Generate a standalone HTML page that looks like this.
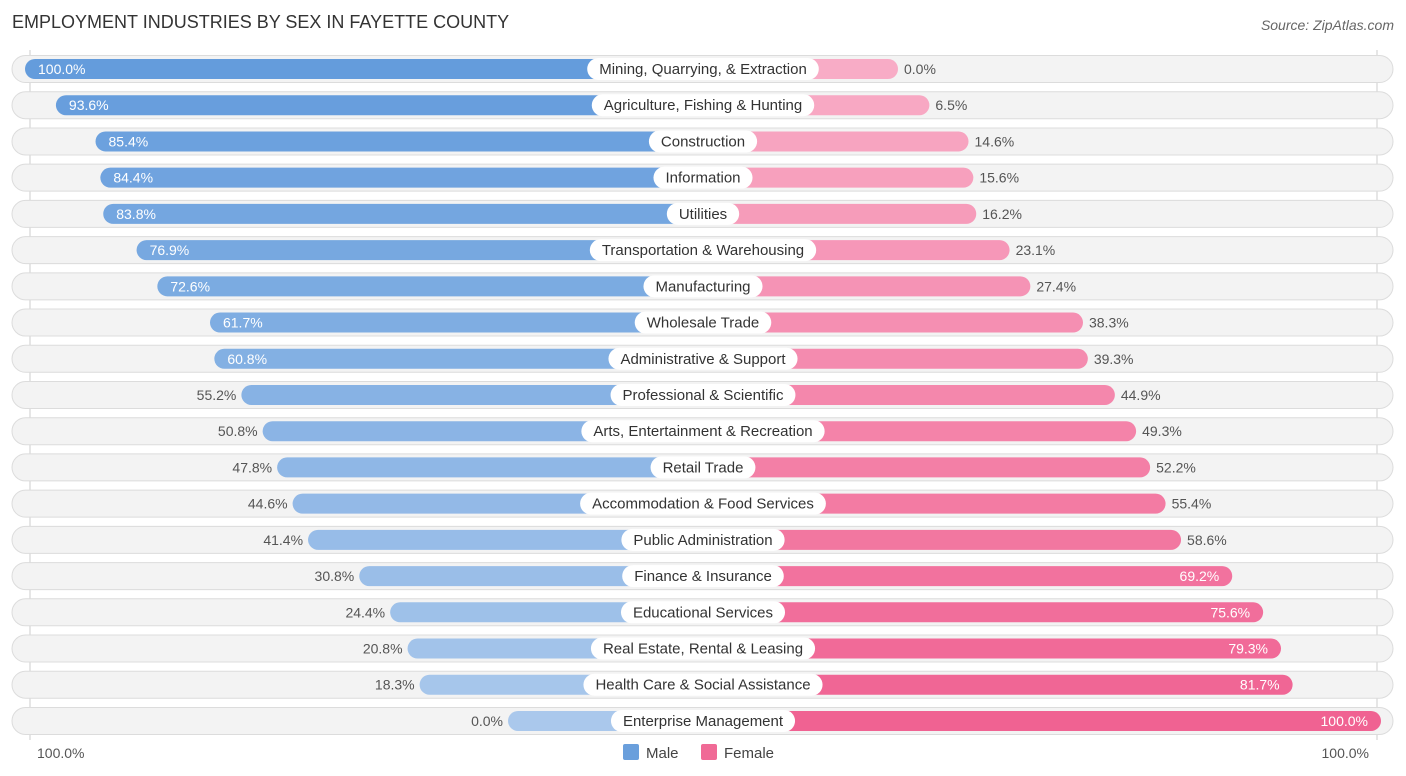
<!DOCTYPE html>
<html><head><meta charset="utf-8"><style>
body{margin:0;background:#fff;font-family:"Liberation Sans",sans-serif;}
svg{display:block}
</style></head><body>
<svg id="c" width="1406" height="776">
<text x="12" y="28" font-size="18" fill="#333">EMPLOYMENT INDUSTRIES BY SEX IN FAYETTE COUNTY</text>
<text x="1394" y="30" font-size="14" fill="#666" font-style="italic" text-anchor="end">Source: ZipAtlas.com</text>
<line x1="30" y1="50" x2="30" y2="740" stroke="#ccc"/>
<line x1="1377" y1="50" x2="1377" y2="740" stroke="#ccc"/>
<g id="rows"></g>
<text x="37" y="758" font-size="14" fill="#555">100.0%</text>
<text x="1369" y="758" font-size="14" fill="#555" text-anchor="end">100.0%</text>
<rect x="623" y="744" width="16" height="16" rx="2" fill="#6a9fdc"/>
<text x="646" y="758" font-size="15" fill="#444">Male</text>
<rect x="701" y="744" width="16" height="16" rx="2" fill="#f06a96"/>
<text x="724" y="758" font-size="15" fill="#444">Female</text>
</svg>
<script>
const categories=["Mining, Quarrying, & Extraction","Agriculture, Fishing & Hunting","Construction","Information","Utilities","Transportation & Warehousing","Manufacturing","Wholesale Trade","Administrative & Support","Professional & Scientific","Arts, Entertainment & Recreation","Retail Trade","Accommodation & Food Services","Public Administration","Finance & Insurance","Educational Services","Real Estate, Rental & Leasing","Health Care & Social Assistance","Enterprise Management"];
const male=[100.0,93.6,85.4,84.4,83.8,76.9,72.6,61.7,60.8,55.2,50.8,47.8,44.6,41.4,30.8,24.4,20.8,18.3,0.0];
const female=[0.0,6.5,14.6,15.6,16.2,23.1,27.4,38.3,39.3,44.9,49.3,52.2,55.4,58.6,69.2,75.6,79.3,81.7,100.0];
const NS="http://www.w3.org/2000/svg";
const g=document.getElementById('rows');
const cx=703,minL=195,k=4.83,y0=69,dy=36.22;
function len(v){return minL+v*k;}
function mk(t,a){const e=document.createElementNS(NS,t);for(const q in a)e.setAttribute(q,a[q]);g.appendChild(e);return e;}
function mix(a,b,t){return 'rgb('+a.map((x,i)=>Math.round(x+(b[i]-x)*t)).join(',')+')';}
categories.forEach((c,i)=>{
  const y=y0+i*dy,t=i/(categories.length-1);
  const bg=mk('rect',{x:12,y:y-13.5,width:1381,height:27,rx:13.5,fill:'#f3f3f3',stroke:'#dcdcdc'});
  
  const ml=len(male[i]);
  const mb=mk('rect',{x:cx-ml,y:y-10,width:ml,height:20,rx:10,fill:mix([100,156,220],[170,200,236],t)});
  
  const fl=len(female[i]);
  const fb=mk('rect',{x:cx,y:y-10,width:fl,height:20,rx:10,fill:mix([248,172,198],[240,98,146],t)});
  
  const lt=mk('text',{x:cx,y:y+5,'font-size':15,fill:'#333','text-anchor':'middle'});
  lt.textContent=c;
  const w=lt.getComputedTextLength()+24;
  const lb=mk('rect',{x:cx-w/2,y:y-11,width:w,height:22,rx:11,fill:'#fff'});
  g.insertBefore(lb,lt);
  
  
  const mIn=male[i]>=60;
  const mv=mk('text',{x:mIn?cx-ml+13:cx-ml-5,y:y+5,'font-size':14,fill:mIn?'#fff':'#555','text-anchor':mIn?'start':'end'});
  mv.textContent=male[i].toFixed(1)+'%';
  
  const fIn=female[i]>=60;
  const fv=mk('text',{x:fIn?cx+fl-13:cx+fl+6,y:y+5,'font-size':14,fill:fIn?'#fff':'#555','text-anchor':fIn?'end':'start'});
  fv.textContent=female[i].toFixed(1)+'%';
  
});
</script>
</body></html>
